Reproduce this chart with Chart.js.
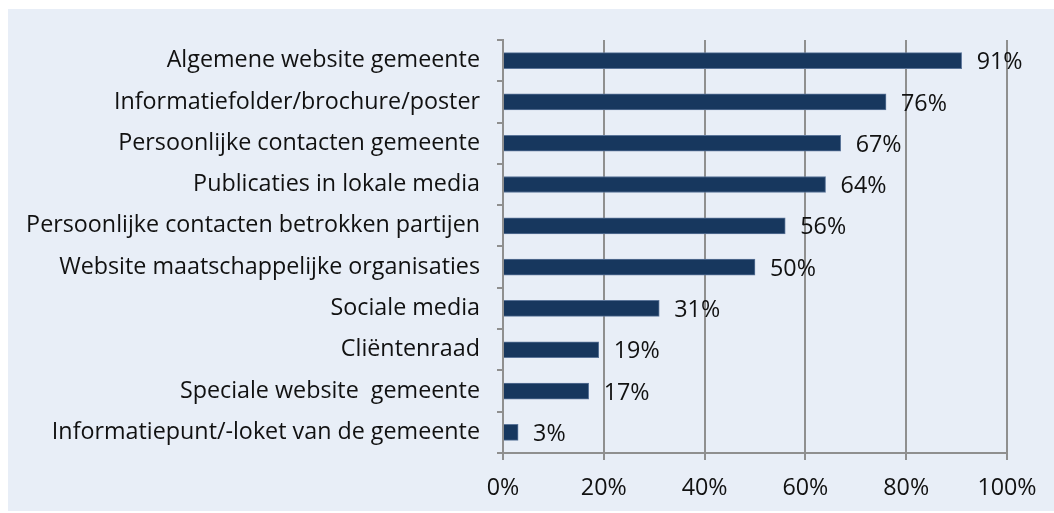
<!DOCTYPE html>
<html>
<head>
<meta charset="utf-8">
<script src="https://cdn.jsdelivr.net/npm/chart.js@4/dist/chart.umd.min.js"></script>
<style>
  html, body { margin: 0; padding: 0; background: #fff; }
  #panel { position: absolute; left: 8px; top: 9px; width: 1046px; height: 502px; background: #e8eef7; }
</style>
</head>
<body>
<div id="panel"><canvas id="chart" width="1046" height="502"></canvas></div>
<script>
const categories = [
  'Algemene website gemeente',
  'Informatiefolder/brochure/poster',
  'Persoonlijke contacten gemeente',
  'Publicaties in lokale media',
  'Persoonlijke contacten betrokken partijen',
  'Website maatschappelijke organisaties',
  'Sociale media',
  'Cliëntenraad',
  'Speciale website  gemeente',
  'Informatiepunt/-loket van de gemeente'
];
const values = [91, 76, 67, 64, 56, 50, 31, 19, 17, 3];
const xTicks = [0, 20, 40, 60, 80, 100];

const font = { family: '"Open Sans", sans-serif', size: 23.3 };

// percentages naast de balken
const valueLabels = {
  id: 'valueLabels',
  afterDatasetsDraw(chart) {
    const ctx = chart.ctx;
    const meta = chart.getDatasetMeta(0);
    ctx.save();
    ctx.font = `${font.size}px ${font.family}`;
    ctx.fillStyle = '#111';
    ctx.textBaseline = 'middle';
    ctx.textAlign = 'left';
    meta.data.forEach((bar, i) => {
      ctx.fillText(values[i] + '%', bar.x + 15, bar.y + 2);
    });
    ctx.restore();
  }
};

new Chart(document.getElementById('chart'), {
  type: 'bar',
  data: {
    labels: categories,
    datasets: [{
      data: values,
      backgroundColor: '#17375e',
      borderColor: '#5b7599',
      borderWidth: 1,
      barThickness: 16
    }]
  },
  options: {
    indexAxis: 'y',
    responsive: false,
    animation: false,
    layout: { padding: { top: 29, right: 47, left: 0, bottom: 0 } },
    plugins: { legend: { display: false }, tooltip: { enabled: false } },
    scales: {
      x: {
        min: 0,
        max: 100,
        afterBuildTicks(axis) { axis.ticks = xTicks.map(v => ({ value: v })); },
        afterFit(axis) { axis.height = 58; },
        ticks: {
          font: font,
          color: '#111',
          padding: 14,
          callback: v => v + '%'
        },
        grid: { color: '#8f8f8f', lineWidth: 2, tickLength: 7 },
        border: { color: '#8f8f8f', width: 2 }
      },
      y: {
        afterFit(axis) { axis.width = 495; },
        ticks: { font: font, color: '#111', padding: 17 },
        grid: { drawOnChartArea: false, color: '#8f8f8f', lineWidth: 2, tickLength: 6, offset: true },
        border: { color: '#8f8f8f', width: 2 }
      }
    }
  },
  plugins: [valueLabels]
});
</script>
</body>
</html>
